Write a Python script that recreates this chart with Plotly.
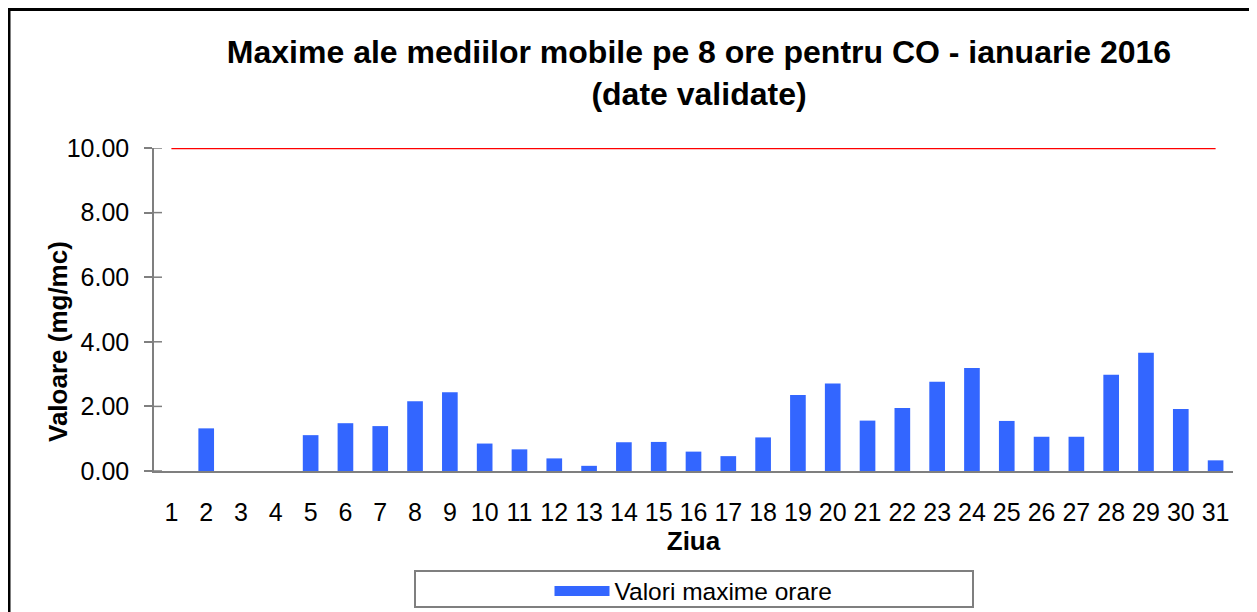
import plotly.graph_objects as go

days = [str(d) for d in range(1, 32)]
values = [None, 1.32, None, None, 1.11, 1.48, 1.39, 2.16, 2.44, 0.85,
          0.67, 0.39, 0.16, 0.89, 0.90, 0.60, 0.46, 1.04, 2.35, 2.71,
          1.56, 1.95, 2.76, 3.19, 1.55, 1.06, 1.06, 2.98, 3.66, 1.92, 0.33]
limit = [10.0] * 31
y_ticks = [0, 2, 4, 6, 8, 10]
y_tick_text = ["0.00", "2.00", "4.00", "6.00", "8.00", "10.00"]

BLUE = "#3366FF"
AXIS = "#7f7f7f"
FONT = "Liberation Sans, Arial, sans-serif"
OFF = 8  # page body margin
W, H = 1257 - OFF, 612 - OFF
L, R, T, B = 154 - OFF, 24, 148 - OFF, 141
pw, ph = W - L - R, H - T - B

def px(x):  # page x -> paper
    return (x - OFF - L) / pw

def py(y):  # page y -> paper
    return (H - B - (y - OFF)) / ph

fig = go.Figure()
fig.add_trace(go.Bar(x=days, y=values, marker_color=BLUE, marker_line_width=0,
                     name="Valori maxime orare", legendgroup="v", showlegend=False))
fig.add_trace(go.Scatter(x=[None], y=[None], mode="lines",
                         line=dict(color=BLUE, width=13),
                         name="Valori maxime orare", legendgroup="v", showlegend=True))
fig.add_trace(go.Scatter(x=days, y=limit, mode="lines",
                         line=dict(color="#FF0000", width=2.5),
                         showlegend=False, hoverinfo="skip"))

shapes = [
    dict(type="rect", xref="paper", yref="paper",
         x0=px(9), x1=px(1254), y0=py(640), y1=py(9.5),
         line=dict(color="black", width=3), fillcolor="rgba(0,0,0,0)"),
    dict(type="rect", xref="paper", yref="paper",
         x0=px(415), x1=px(973), y0=py(607), y1=py(571),
         line=dict(color=AXIS, width=2), fillcolor="rgba(0,0,0,0)"),
]
# inner half of the crossing y-axis tick marks
for v in y_ticks:
    shapes.append(dict(type="line", xref="paper", yref="y",
                       x0=0, x1=8 / pw, y0=v, y1=v,
                       line=dict(color=AXIS, width=1.5)))

fig.update_layout(
    width=W, height=H,
    margin=dict(l=L, r=R, t=T, b=B, autoexpand=False),
    paper_bgcolor="white", plot_bgcolor="white",
    font=dict(family=FONT, color="black", size=25),
    bargap=0.55,
    title=dict(text="<b>Maxime ale mediilor mobile pe 8 ore pentru CO - ianuarie 2016<br>(date validate)</b>",
               font=dict(size=32, family=FONT, color="black"),
               x=px(699), xanchor="center", xref="paper",
               y=1 - 55 / H, yanchor="top", yref="container"),
    xaxis=dict(type="category", categoryorder="array", categoryarray=days,
               tickvals=days, ticktext=days,
               showline=True, linecolor=AXIS, linewidth=1.5,
               ticks="", showgrid=False, zeroline=False,
               tickfont=dict(size=25), ticklabelstandoff=18,
               title=dict(text="<b>Ziua</b>", font=dict(size=26), standoff=0)),
    yaxis=dict(range=[0, 10], tickvals=y_ticks, ticktext=y_tick_text,
               showline=True, linecolor=AXIS, linewidth=1.5,
               ticks="outside", ticklen=8, tickcolor=AXIS, tickwidth=1.5,
               showgrid=False, zeroline=False, tickfont=dict(size=25),
               ticklabelstandoff=10),
    annotations=[dict(text="<b>Valoare (mg/mc)</b>", textangle=-90,
                      xref="paper", yref="paper", x=px(58), y=py(342),
                      xanchor="center", yanchor="middle", showarrow=False,
                      font=dict(size=26, family=FONT, color="black"))],
    legend=dict(orientation="h", x=0.5, xanchor="center",
                y=py(591), yanchor="middle", font=dict(size=24.5),
                bgcolor="rgba(0,0,0,0)", itemwidth=55),
    shapes=shapes,
)

fig.write_html("out.html")
